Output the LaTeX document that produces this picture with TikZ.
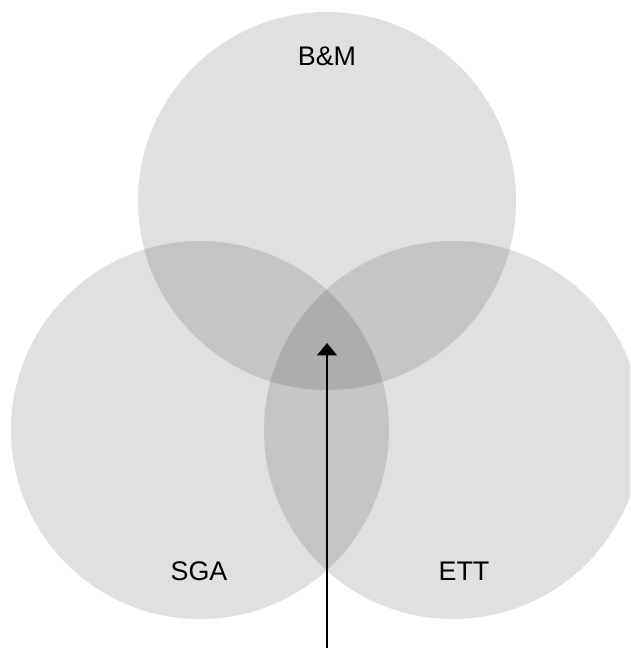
\documentclass[tikz,border=0pt]{standalone}
\usepackage{fontspec}
\setmainfont{Liberation Sans}
\usetikzlibrary{arrows.meta}
\tikzset{>={Triangle[width=11pt,length=7pt]}}
\tikzset{
    setfill/.style = {fill=black, fill opacity=0.12},
    setlabel/.style = {font=\fontsize{15.3}{18}\selectfont, text opacity=1}
}

\begin{document}
\begin{tikzpicture}[x=0.02cm, y=-0.02cm]

    \clip (0,0) rectangle (630,656);
    \useasboundingbox (0,0) rectangle (630,656);

    \coordinate (bm) at (327,201);
    \coordinate (sga) at (200,430);
    \coordinate (ett) at (453,430);

    \fill[setfill] (bm) circle (189);
    \fill[setfill] (sga) circle (189);
    \fill[setfill] (ett) circle (189);

    \node[setlabel] (bmlabel) at (327,56) {B\&M};
    \node[setlabel] (sgalabel) at (199,571) {SGA};
    \node[setlabel] (ettlabel) at (464,571) {ETT};

    \coordinate (tail) at (327,648);
    \coordinate (head) at (327,343);
    \draw[->, line width=1.7pt] (tail) -- (head);

\end{tikzpicture}
\end{document}
